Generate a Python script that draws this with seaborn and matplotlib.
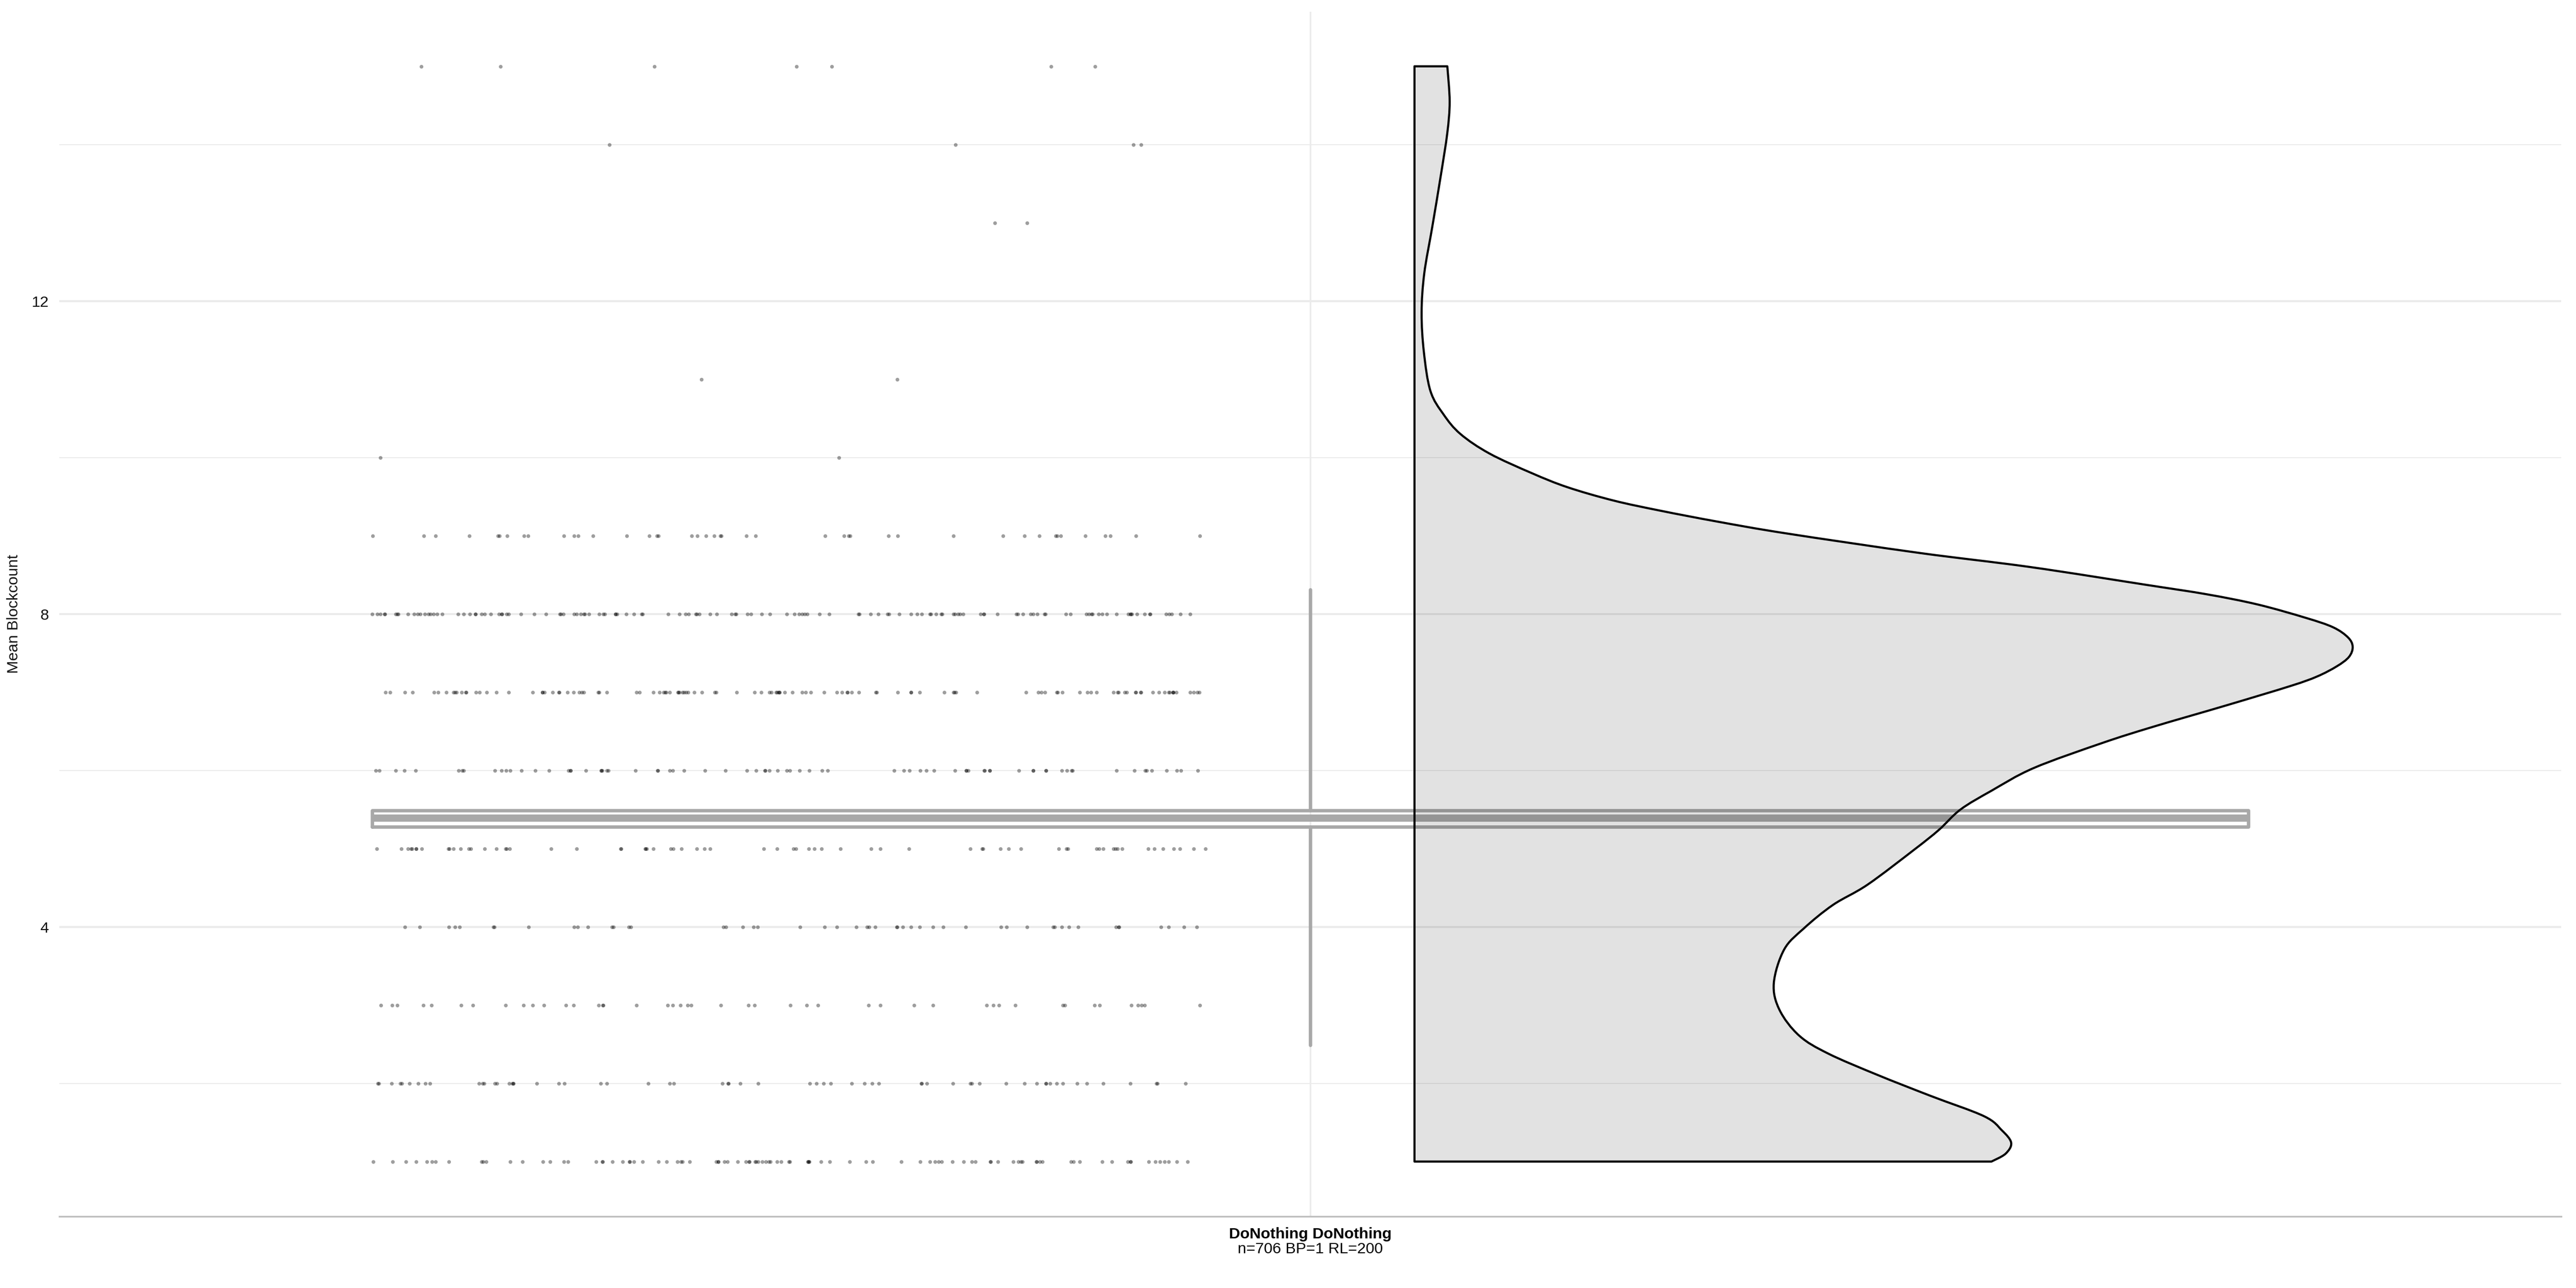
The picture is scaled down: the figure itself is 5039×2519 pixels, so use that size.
import numpy as np
import pandas as pd
import matplotlib
matplotlib.use("Agg")
import matplotlib.pyplot as plt
import matplotlib.transforms as mtransforms
from matplotlib.path import Path
from matplotlib.patches import PathPatch
import seaborn as sns

# ---------------- data ----------------
category_label = "DoNothing DoNothing"
category_subtitle = "n=706 BP=1 RL=200"
y_label = "Mean Blockcount"

# observed values (integer block counts) and how many runs had each
blockcount_levels = [1, 2, 3, 4, 5, 6, 7, 8, 9, 10, 11, 12, 13, 14, 15]
blockcount_counts = [97, 61, 45, 50, 67, 76, 118, 132, 43, 2, 2, 0, 2, 4, 7]

# boxplot summary
box_whisker_low = 2.49
box_q1 = 5.28
box_median = 5.39
box_q3 = 5.49
box_whisker_high = 8.31

# half-violin density profile (relative width)
density_y = [1.00, 1.10, 1.24, 1.40, 1.58, 1.84, 2.11, 2.38, 2.61, 2.94, 3.28,
             3.71, 3.98, 4.28, 4.54, 4.99, 5.24, 5.50, 5.74, 6.03, 6.35, 6.56,
             6.83, 7.08, 7.20, 7.33, 7.45, 7.58, 7.70, 7.83, 7.95, 8.12, 8.25,
             8.37, 8.60, 8.78, 9.03, 9.18, 9.32, 9.45, 9.62, 9.80, 10.05,
             10.30, 10.55, 10.85, 11.35, 11.85, 12.35, 12.95, 13.60, 14.15,
             14.55, 15.00]
density_rel = [0.615, 0.630, 0.636, 0.626, 0.607, 0.550, 0.493, 0.441, 0.410,
               0.389, 0.383, 0.394, 0.415, 0.446, 0.483, 0.533, 0.559, 0.582,
               0.615, 0.660, 0.733, 0.788, 0.865, 0.934, 0.962, 0.983, 0.996,
               1.000, 0.995, 0.979, 0.950, 0.899, 0.845, 0.781, 0.656, 0.538,
               0.396, 0.323, 0.262, 0.212, 0.163, 0.125, 0.080, 0.049, 0.031,
               0.017, 0.010, 0.0076, 0.0104, 0.019, 0.028, 0.035, 0.0375,
               0.035]

y_major_ticks = [4, 8, 12]
y_minor_ticks = [2, 6, 10, 14]

# ---------------- styling ----------------
sns.set_style("white")
plt.rcParams["font.family"] = ["Liberation Sans", "DejaVu Sans"]

W, H, DPI = 5039, 2519, 300
fig = plt.figure(figsize=(W / DPI, H / DPI), dpi=DPI)
ax = fig.add_axes([116 / W, 1 - 2378.8 / H, (5010 - 116) / W, (2378.8 - 22.6) / H])

FS = 7.3

# jittered raw points
values = np.repeat(blockcount_levels, blockcount_counts)
df = pd.DataFrame({"pos": np.full(len(values), 0.75), "blockcount": values})
np.random.seed(7)
sns.stripplot(data=df, x="pos", y="blockcount", native_scale=True, orient="x",
              jitter=0.2, size=1.75, color="black", alpha=0.38, linewidth=0,
              ax=ax, zorder=2)

# boxplot
stats = [dict(med=box_median, q1=box_q1, q3=box_q3,
              whislo=box_whisker_low, whishi=box_whisker_high, fliers=[])]
box_col = "#a8a8a8"
ax.bxp(stats, positions=[1.0], widths=0.9, showcaps=False, showfliers=False,
       manage_ticks=False,
       boxprops=dict(color=box_col, linewidth=1.6),
       whiskerprops=dict(color=box_col, linewidth=1.6),
       medianprops=dict(color=box_col, linewidth=3.4, solid_capstyle="butt"),
       zorder=3)

# half violin: outline drawn as a smooth curve through the density profile
base = 1.05
vy = np.asarray(density_y, dtype=float)
vx = base + 0.45 * np.asarray(density_rel, dtype=float)
pts = np.column_stack([vx, vy])
n = len(pts)
verts = [(base, vy[0]), (vx[0], vy[0])]
codes = [Path.MOVETO, Path.LINETO]
for i in range(n - 1):
    p0 = pts[max(i - 1, 0)]
    p1 = pts[i]
    p2 = pts[i + 1]
    p3 = pts[min(i + 2, n - 1)]
    c1 = p1 + (p2 - p0) / 6.0
    c2 = p2 - (p3 - p1) / 6.0
    verts += [tuple(c1), tuple(c2), tuple(p2)]
    codes += [Path.CURVE4] * 3
verts += [(base, vy[-1]), (base, vy[0])]
codes += [Path.LINETO, Path.CLOSEPOLY]
ax.add_patch(PathPatch(Path(verts, codes), facecolor=(0, 0, 0, 0.114),
                       edgecolor="black", linewidth=1.0, joinstyle="round",
                       zorder=4))

# axes
ax.set_xlim(0.4, 1.6)
ax.set_ylim(0.3, 15.7)
ax.set_xticks([1.0])
ax.set_xticklabels([""])
ax.set_yticks(y_major_ticks)
ax.set_yticklabels([str(t) for t in y_major_ticks])
ax.set_yticks(y_minor_ticks, minor=True)
ax.set_xlabel("")
ax.grid(which="major", axis="y", color="#ebebeb", linewidth=0.95)
ax.grid(which="minor", axis="y", color="#ebebeb", linewidth=0.45)
ax.grid(which="major", axis="x", color="#ebebeb", linewidth=0.8)
ax.set_axisbelow(True)
for s in ["left", "top", "right"]:
    ax.spines[s].set_visible(False)
ax.spines["bottom"].set_color("#bebebe")
ax.spines["bottom"].set_linewidth(0.8)
ax.tick_params(which="both", length=0)
ax.tick_params(axis="y", labelsize=FS, pad=5, labelcolor="#111111")
ax.set_ylabel(y_label, fontsize=FS, labelpad=4.8, color="#111111")

trans = ax.get_xaxis_transform()
t1 = mtransforms.offset_copy(trans, fig=fig, x=0, y=-43.7, units="dots")
t2 = mtransforms.offset_copy(trans, fig=fig, x=0, y=-72.0, units="dots")
ax.text(1.0, 0, category_label, transform=t1, ha="center", va="baseline",
        fontsize=FS, fontweight="bold", color="black")
ax.text(1.0, 0, category_subtitle, transform=t2, ha="center", va="baseline",
        fontsize=FS, color="black")

fig.savefig("out.png", dpi=DPI)
